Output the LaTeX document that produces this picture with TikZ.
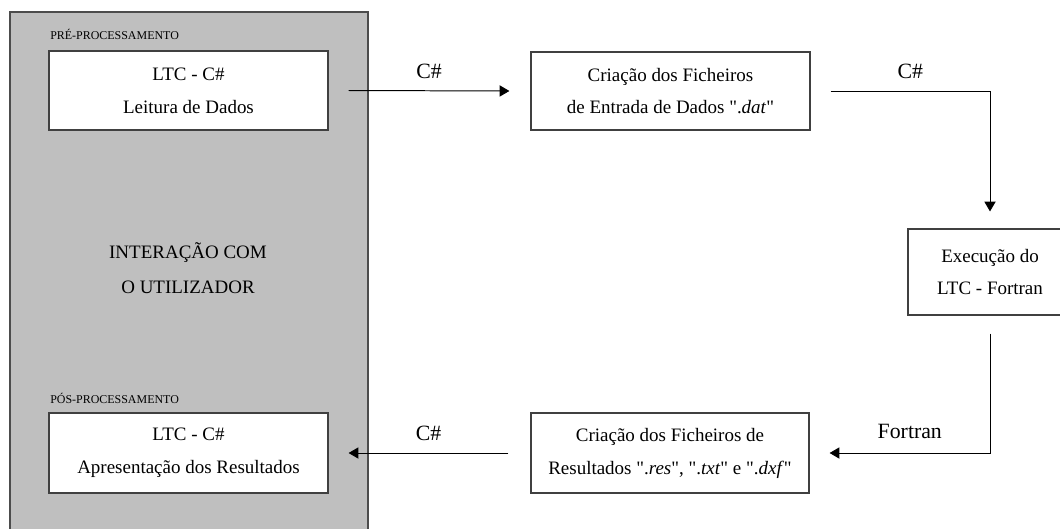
\documentclass[tikz,border=0pt]{standalone}
\usepackage{fontspec}
\setmainfont[Ligatures=TeXOff]{Liberation Serif}
\usetikzlibrary{arrows.meta}

\begin{document}
\begin{tikzpicture}[x=0.025cm,y=-0.025cm]
    \tikzstyle{caixa}=[rectangle,draw=black!75,fill=white,line width=0.8pt,align=center,inner sep=0pt,font=\fontsize{13.5}{23.4}\selectfont]
    \tikzstyle{seta}=[draw=black,line width=0.7pt,-{Triangle[length=7pt,width=8pt]}]
    \tikzstyle{rotulo}=[font=\fontsize{15.5}{18}\selectfont,inner sep=0pt]
    \tikzstyle{fase}=[anchor=base west,inner sep=0pt,font=\fontsize{8.5}{10}\selectfont]
    \useasboundingbox (0,0) rectangle (1060,528);

    % zona de interacao com o utilizador
    \fill[gray!50] (10,12) rectangle (368,540);
    \draw[black!70,line width=0.8pt] (10,540) -- (10,12) -- (368,12) -- (368,540);
    \node[align=center,font=\fontsize{13.5}{24.8}\selectfont] (utilizador) at (188,268) {INTERAÇÃO COM\\O UTILIZADOR};
    \node[fase] (pre) at (50,39) {PRÉ-PROCESSAMENTO};
    \node[fase] (pos) at (50,403) {PÓS-PROCESSAMENTO};

    \node[caixa,minimum width=6.975cm,minimum height=1.975cm] (leitura) at (188.5,90.5) {LTC - C\#\\Leitura de Dados};
    \node[caixa,minimum width=6.975cm,minimum height=2cm] (apresentacao) at (188.5,453) {LTC - C\#\\Apresentação dos Resultados};
    \node[caixa,minimum width=6.975cm,minimum height=1.95cm] (dat) at (670.5,91) {Criação dos Ficheiros\\de Entrada de Dados ".\textit{dat}"};
    \node[caixa,minimum width=4.1cm,minimum height=2.15cm] (fortran) at (990,272) {Execução do\\LTC - Fortran};
    \node[caixa,minimum width=6.95cm,minimum height=2cm] (res) at (670,453) {Criação dos Ficheiros de\\Resultados ".\textit{res}", ".\textit{txt}" e ".\textit{dxf}"};

    \draw[seta] ([xshift=0.5cm]leitura.east) -- node[rotulo,midway,yshift=14pt] {C\#} ([xshift=-0.525cm]dat.west);
    \draw[seta] ([xshift=0.5cm]dat.east) -| node[rotulo,pos=0.25,yshift=14pt] {C\#} ([yshift=0.425cm]fortran.north);
    \draw[seta] ([yshift=-0.45cm]fortran.south) |- node[rotulo,pos=0.75,yshift=15pt] {Fortran} ([xshift=0.5cm]res.east);
    \draw[seta] ([xshift=-0.55cm]res.west) -- node[rotulo,midway,yshift=14pt] {C\#} ([xshift=0.5cm]apresentacao.east);

\end{tikzpicture}
\end{document}
